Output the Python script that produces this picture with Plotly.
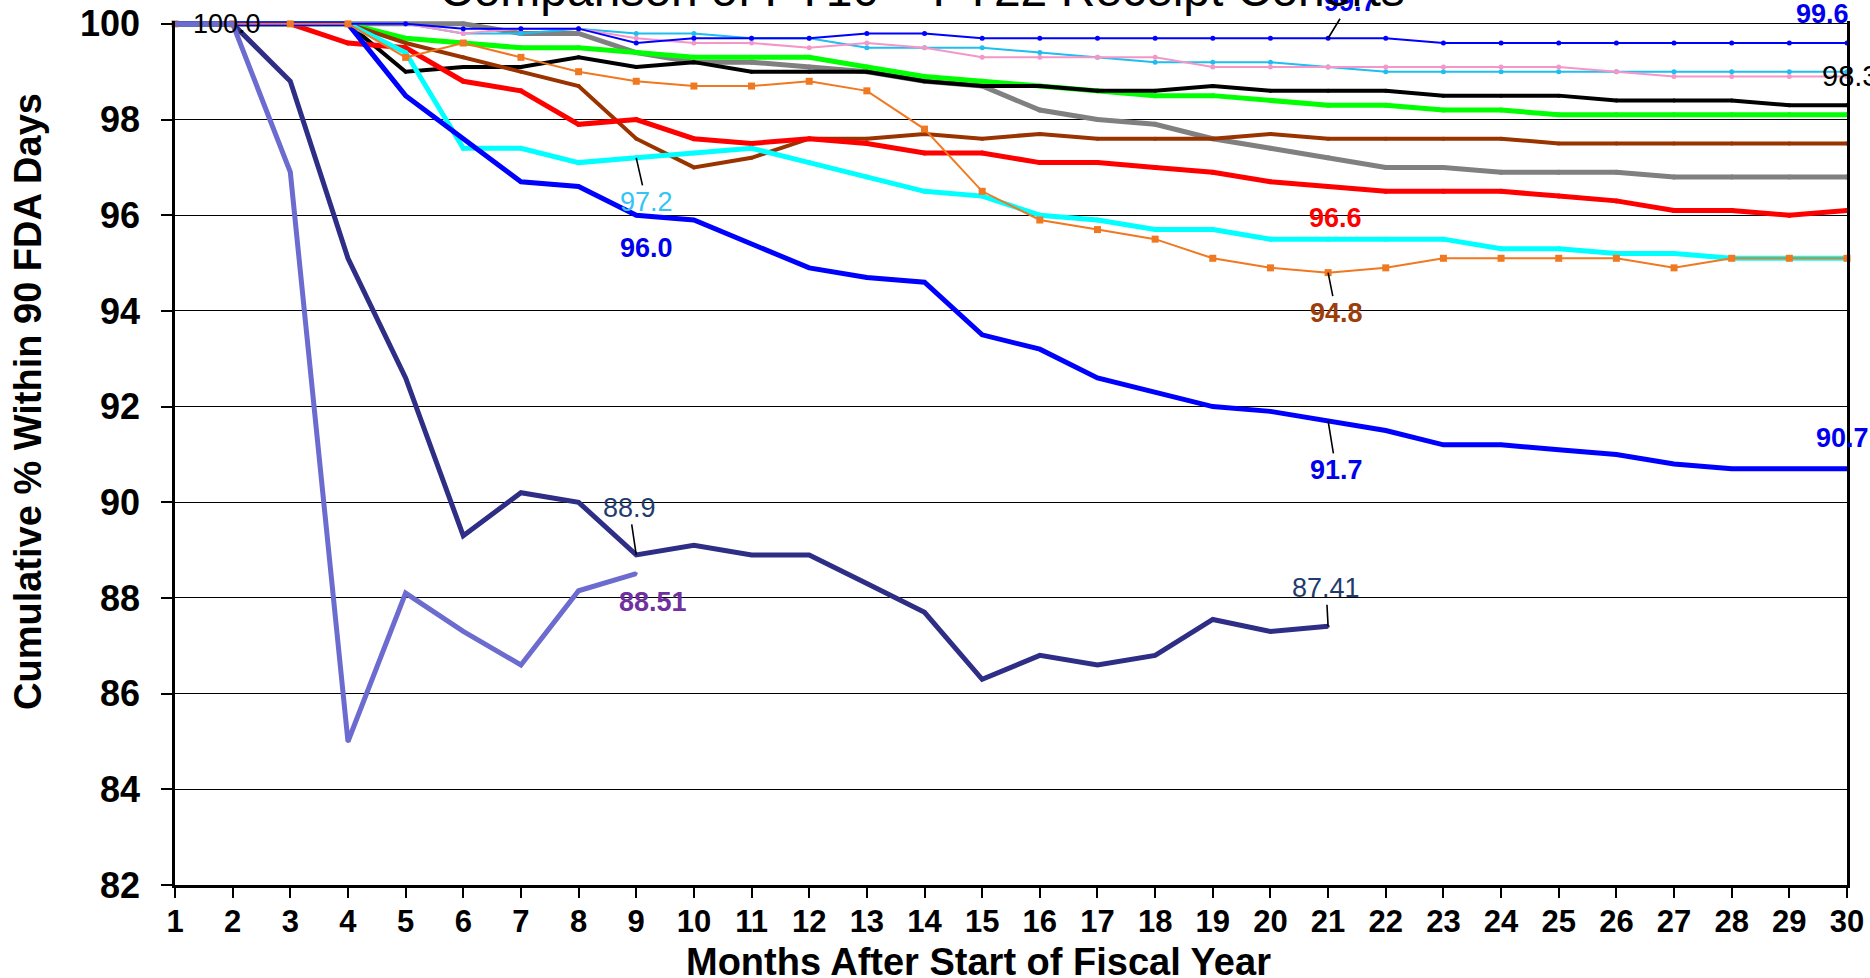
import plotly.graph_objects as go

months = list(range(1, 31))

fy10 = [100, 100, 100, 100, 100, 99.9, 99.9, 99.9, 99.6, 99.7, 99.7, 99.7, 99.8, 99.8, 99.7,
        99.7, 99.7, 99.7, 99.7, 99.7, 99.7, 99.7, 99.6, 99.6, 99.6, 99.6, 99.6, 99.6, 99.6, 99.6]
fy11 = [100, 100, 100, 100, 100, 99.8, 99.8, 99.9, 99.8, 99.8, 99.7, 99.7, 99.5, 99.5, 99.5,
        99.4, 99.3, 99.2, 99.2, 99.2, 99.1, 99.0, 99.0, 99.0, 99.0, 99.0, 99.0, 99.0, 99.0, 99.0]
fy12 = [100, 100, 100, 100, 100, 99.8, 99.9, 99.9, 99.7, 99.6, 99.6, 99.5, 99.6, 99.5, 99.3,
        99.3, 99.3, 99.3, 99.1, 99.1, 99.1, 99.1, 99.1, 99.1, 99.1, 99.0, 98.9, 98.9, 98.9, 98.9]
fy13 = [100, 100, 100, 100, 99.0, 99.1, 99.1, 99.3, 99.1, 99.2, 99.0, 99.0, 99.0, 98.8, 98.7,
        98.7, 98.6, 98.6, 98.7, 98.6, 98.6, 98.6, 98.5, 98.5, 98.5, 98.4, 98.4, 98.4, 98.3, 98.3]
fy14 = [100, 100, 100, 100, 99.7, 99.6, 99.5, 99.5, 99.4, 99.3, 99.3, 99.3, 99.1, 98.9, 98.8,
        98.7, 98.6, 98.5, 98.5, 98.4, 98.3, 98.3, 98.2, 98.2, 98.1, 98.1, 98.1, 98.1, 98.1, 98.1]
fy15 = [100, 100, 100, 100, 99.6, 99.3, 99.0, 98.7, 97.6, 97.0, 97.2, 97.6, 97.6, 97.7, 97.6,
        97.7, 97.6, 97.6, 97.6, 97.7, 97.6, 97.6, 97.6, 97.6, 97.5, 97.5, 97.5, 97.5, 97.5, 97.5]
fy16 = [100, 100, 100, 100, 100, 100, 99.8, 99.8, 99.4, 99.2, 99.2, 99.1, 99.0, 98.8, 98.7,
        98.2, 98.0, 97.9, 97.6, 97.4, 97.2, 97.0, 97.0, 96.9, 96.9, 96.9, 96.8, 96.8, 96.8, 96.8]
fy17 = [100, 100, 100, 99.6, 99.5, 98.8, 98.6, 97.9, 98.0, 97.6, 97.5, 97.6, 97.5, 97.3, 97.3,
        97.1, 97.1, 97.0, 96.9, 96.7, 96.6, 96.5, 96.5, 96.5, 96.4, 96.3, 96.1, 96.1, 96.0, 96.1]
fy18 = [100, 100, 100, 100, 99.4, 97.4, 97.4, 97.1, 97.2, 97.3, 97.4, 97.1, 96.8, 96.5, 96.4,
        96.0, 95.9, 95.7, 95.7, 95.5, 95.5, 95.5, 95.5, 95.3, 95.3, 95.2, 95.2, 95.1, 95.1, 95.1]
fy19 = [100, 100, 100, 100, 99.3, 99.6, 99.3, 99.0, 98.8, 98.7, 98.7, 98.8, 98.6, 97.8, 96.5,
        95.9, 95.7, 95.5, 95.1, 94.9, 94.8, 94.9, 95.1, 95.1, 95.1, 95.1, 94.9, 95.1, 95.1, 95.1]
fy20 = [100, 100, 100, 100, 98.5, 97.6, 96.7, 96.6, 96.0, 95.9, 95.4, 94.9, 94.7, 94.6, 93.5,
        93.2, 92.6, 92.3, 92.0, 91.9, 91.7, 91.5, 91.2, 91.2, 91.1, 91.0, 90.8, 90.7, 90.7, 90.7]
fy21 = [100, 100, 98.8, 95.1, 92.6, 89.3, 90.2, 90.0, 88.9, 89.1, 88.9, 88.9, 88.3, 87.7, 86.3,
        86.8, 86.6, 86.8, 87.55, 87.3, 87.41]
fy22 = [100, 100, 96.9, 85.0, 88.1, 87.3, 86.6, 88.15, 88.51]

title_text = "Comparison of FY10 \u2013 FY22 Receipt Cohorts"
x_title = "Months After Start of Fiscal Year"
y_title = "Cumulative % Within 90 FDA Days"

FONT = "Liberation Sans, Arial, sans-serif"

# plot-area geometry in page pixels
L, R, T, B = 175, 23, 21, 93
PW, PH = 1870 - L - R, 978 - T - B

series = [
    # name, values, color, width, marker symbol, marker size
    ("FY16", fy16, "#808080", 5, "circle", 5),
    ("FY14", fy14, "#00ff00", 5, "circle", 5),
    ("FY13", fy13, "#000000", 4, "circle", 4),
    ("FY15", fy15, "#993300", 4, "circle", 4),
    ("FY17", fy17, "#ff0000", 5, "circle", 5),
    ("FY18", fy18, "#00ffff", 5, "circle", 5),
    ("FY11", fy11, "#1fbdf0", 2, "circle", 5),
    ("FY12", fy12, "#f497c8", 2, "circle", 5),
    ("FY10", fy10, "#0000ff", 2, "circle", 5),
    ("FY20", fy20, "#0000ff", 5, "circle", 4),
    ("FY19", fy19, "#f07820", 2, "square", 7),
    ("FY21", fy21, "#2e2e86", 5, "circle", 3),
    ("FY22", fy22, "#6b6bd0", 5, "circle", 3),
]

fig = go.Figure()
for name, vals, color, width, sym, msize in series:
    fig.add_trace(go.Scatter(
        x=months[:len(vals)], y=vals, name=name, mode="lines+markers",
        line=dict(color=color, width=width),
        marker=dict(color=color, size=msize, symbol=sym),
        cliponaxis=False, showlegend=False,
    ))

LBL = 27
anns = []


def txt(x, y, text, color, size=LBL, xanchor="center"):
    anns.append(dict(x=x, y=y, xref="x", yref="y", text=text, showarrow=False,
                     xanchor=xanchor, yanchor="middle",
                     font=dict(family=FONT, size=size, color=color)))


def txt_px(px, py, text, color, size=LBL):
    anns.append(dict(x=(px - L) / PW, y=1 - (py - T) / PH, xref="paper", yref="paper",
                     text=text, showarrow=False, xanchor="center", yanchor="middle",
                     font=dict(family=FONT, size=size, color=color)))


def arr(x, y, text, color, ax, ay, size=LBL):
    anns.append(dict(x=x, y=y, xref="x", yref="y", text=text, showarrow=True,
                     ax=ax, ay=ay, arrowhead=0, arrowwidth=1.6, arrowcolor="#000000",
                     standoff=0, startstandoff=0,
                     font=dict(family=FONT, size=size, color=color)))


txt(1.9, 100, "100.0", "#000000", 27)
arr(9, fy18[8], "97.2", "#33c4f4", 10, 44)
txt(9.18, 95.32, "<b>96.0</b>", "#0000ee")
arr(9, fy21[8], "88.9", "#1f3c6e", -7, -47)
txt(9.29, 87.92, "<b>88.51</b>", "#7030a0")
arr(21, fy21[20], "87.41", "#1f3c6e", -2, -38)
txt(21.13, 95.94, "<b>96.6</b>", "#ff0000")
arr(21, fy19[20], "<b>94.8</b>", "#9c3d0c", 8, 40)
arr(21, fy20[20], "<b>91.7</b>", "#0000ee", 8, 49)
arr(21, fy10[20], "<b>99.7</b>", "#0000ee", 22, -36)
txt_px(1822, 14, "<b>99.6</b>", "#0000ee")
txt(29.53, 98.91, "98.3", "#000000", 29, xanchor="left")
txt(29.92, 91.34, "<b>90.7</b>", "#0000ee")

# titles
anns.append(dict(x=(922 - L) / PW, y=1, xref="paper", yref="paper", text=title_text,
                 showarrow=False, xanchor="center", yanchor="bottom", yshift=3,
                 font=dict(family=FONT, size=48, color="#000000")))
anns.append(dict(x=(978 - L) / PW, y=0, xref="paper", yref="paper", text="<b>" + x_title + "</b>",
                 showarrow=False, xanchor="center", yanchor="middle", yshift=-(962 - (978 - B)),
                 font=dict(family=FONT, size=38, color="#000000")))
anns.append(dict(x=0, y=1 - (402 - T) / PH, xref="paper", yref="paper", text="<b>" + y_title + "</b>",
                 showarrow=False, xanchor="center", yanchor="middle", xshift=-(L - 28), textangle=-90,
                 font=dict(family=FONT, size=38, color="#000000")))

fig.update_layout(
    width=1870, height=978,
    margin=dict(l=L, r=R, t=T, b=B, autoexpand=False),
    paper_bgcolor="#ffffff", plot_bgcolor="#ffffff",
    annotations=anns,
    hovermode="closest",
)
fig.update_xaxes(
    range=[1, 30], tickmode="array", tickvals=months, ticktext=[str(m) for m in months],
    showgrid=False, zeroline=False, automargin=False,
    showline=True, linecolor="#000000", linewidth=3,
    ticks="outside", ticklen=10, tickwidth=2, tickcolor="#000000",
    tickfont=dict(family=FONT, size=31, color="#000000", weight="bold"),
    ticklabelstandoff=-3,
)
fig.update_yaxes(
    range=[82, 100.06], tick0=82, dtick=2,
    showgrid=True, gridcolor="#000000", gridwidth=1.2, zeroline=False, automargin=False,
    showline=True, mirror=True, linecolor="#000000", linewidth=2.5,
    ticks="outside", ticklen=11, tickwidth=2, tickcolor="#000000",
    tickfont=dict(family=FONT, size=36, color="#000000", weight="bold"),
    ticklabelstandoff=14,
)

fig.write_html("out.html", config={"displayModeBar": False},
               post_script="document.body.style.margin='0';document.body.style.overflow='hidden';")
